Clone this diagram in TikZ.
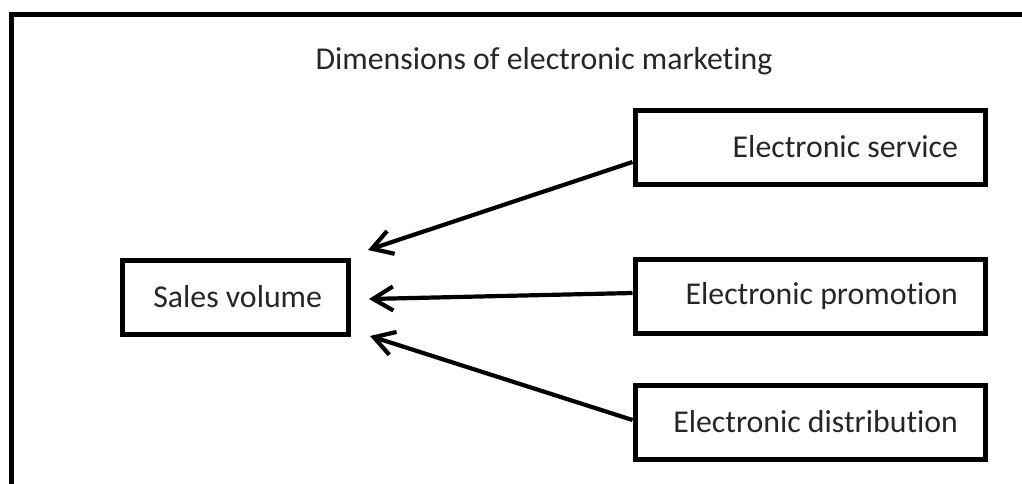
\documentclass[tikz,border=0pt]{standalone}
\usepackage{fontspec}
\setmainfont[Ligatures=NoCommon]{Carlito}
\usetikzlibrary{arrows.meta}
\tikzset{
  txt/.style={font=\fontsize{31.8}{38}\selectfont, text=black!85},
  box/.style={draw=black, line width=5pt, minimum height=74pt, inner ysep=0pt, txt},
  rbox/.style={box, text width=296pt, inner xsep=27pt, align=flush right},
  arr/.style={draw=black, line width=4.2pt, -{Straight Barb[length=20pt, width=24pt, line width=4.2pt]}}
}
\begin{document}
\begin{tikzpicture}[x=1pt, y=-1pt]
\useasboundingbox (0,0) rectangle (1022,483);
\begin{scope}
\clip (0,0) rectangle (1022,483);
\draw[line width=5pt] (11.5,500) -- (11.5,14.5) -- (1040,14.5);
\end{scope}
\node[anchor=base, txt] (title) at (544,69) {Dimensions of electronic marketing};
\node[box, minimum width=226pt, text width=174pt, inner xsep=26pt, align=flush right] (sales) at (235,297) {Sales volume};
\node[rbox] (serv) at (810,147) {Electronic service};
\node[rbox] (prom) at (810,296.5) {Electronic promotion};
\node[rbox] (dist) at (810,422) {Electronic distribution};
\coordinate (t1) at (368,250);
\coordinate (t2) at (369,299);
\coordinate (t3) at (370,336);
\draw[arr] ([yshift=-15pt]serv.west) -- (t1);
\draw[arr] ([yshift=3.5pt]prom.west) -- (t2);
\draw[arr] ([yshift=2pt]dist.west) -- (t3);
\end{tikzpicture}
\end{document}
